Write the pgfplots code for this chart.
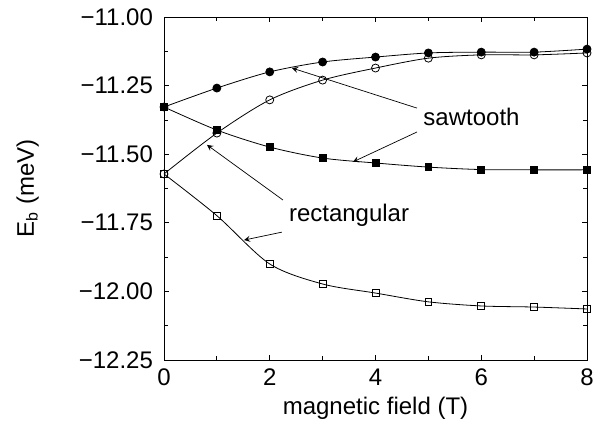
\documentclass[border=0pt]{standalone}
\usepackage{pgfplots}
\pgfplotsset{compat=1.18}
\usepackage{fontspec}
\setmainfont{Liberation Sans}
\begin{document}
\begin{tikzpicture}
\begin{axis}[
  name=ax,
  scale only axis,
  width=211.5pt, height=171.5pt,
  xmin=0, xmax=8, ymin=-12.25, ymax=-11,
  xtick={0,2,4,6,8},
  minor xtick={1,3,5,7},
  ytick={-12.25,-12,-11.75,-11.5,-11.25,-11},
  yticklabels={−12.25,−12.00,−11.75,−11.50,−11.25,−11.00},
  minor ytick={-12.125,-11.875,-11.625,-11.375,-11.125},
  tick align=inside,
  major tick length=2.5pt, minor tick length=2pt,
  every tick/.style={black, line width=0.4pt},
  axis line style={line width=0.5pt},
  /pgf/number format/assume math mode=true,
  tick label style={font=\fontsize{12}{14}\selectfont},
  yticklabel style={xshift=-2pt},
  xticklabel style={yshift=-1pt},
  label style={font=\fontsize{12}{14}\selectfont},
  xlabel={magnetic field (T)},
  ylabel={E\textsubscript{b} (meV)},
  xlabel style={at={(rel axis cs:0.5,-0.14)}, anchor=center},
  ylabel style={at={(rel axis cs:-0.322,0.5)}, anchor=center},
  every axis plot/.append style={line width=0.4pt, black, smooth},
  clip=false,
]
% sawtooth, filled circles
\addplot[mark=*, mark size=2pt, mark options={fill=black}] coordinates {
(0,-11.328) (1,-11.259) (2,-11.200) (3,-11.164) (4,-11.146) (5,-11.131) (6,-11.128) (7,-11.128) (8,-11.117)};
% rectangular, open circles
\addplot[mark=o, mark size=2pt, mark options={fill=white}] coordinates {
(0,-11.572) (1,-11.423) (2,-11.302) (3,-11.230) (4,-11.186) (5,-11.150) (6,-11.138) (7,-11.138) (8,-11.131)};
% sawtooth, filled squares
\addplot[mark=square*, mark size=1.7pt, mark options={fill=black}] coordinates {
(0,-11.328) (1,-11.412) (2,-11.474) (3,-11.514) (4,-11.532) (5,-11.547) (6,-11.556) (7,-11.557) (8,-11.557)};
% rectangular, open squares
\addplot[mark=square, mark size=1.7pt, mark options={fill=white}] coordinates {
(0,-11.572) (1,-11.724) (2,-11.900) (3,-11.973) (4,-12.006) (5,-12.038) (6,-12.053) (7,-12.057) (8,-12.064)};
% annotations
\node[anchor=west, font=\fontsize{12}{14}\selectfont, inner sep=0pt] at (axis cs:4.90,-11.364) {sawtooth};
\node[anchor=center, font=\fontsize{12}{14}\selectfont, inner sep=0pt] at (axis cs:3.50,-11.722) {rectangular};
\draw[-stealth, line width=0.35pt] (axis cs:4.785,-11.332) -- (axis cs:2.42,-11.186);
\draw[-stealth, line width=0.35pt] (axis cs:4.785,-11.419) -- (axis cs:3.574,-11.528);
\draw[-stealth, line width=0.35pt] (axis cs:2.25,-11.667) -- (axis cs:0.813,-11.466);
\draw[-stealth, line width=0.35pt] (axis cs:2.23,-11.784) -- (axis cs:1.513,-11.813);
\end{axis}
\path ([xshift=-82pt, yshift=-34.5pt]ax.south west) rectangle ([xshift=7.5pt, yshift=8.5pt]ax.north east);
\end{tikzpicture}
\end{document}
